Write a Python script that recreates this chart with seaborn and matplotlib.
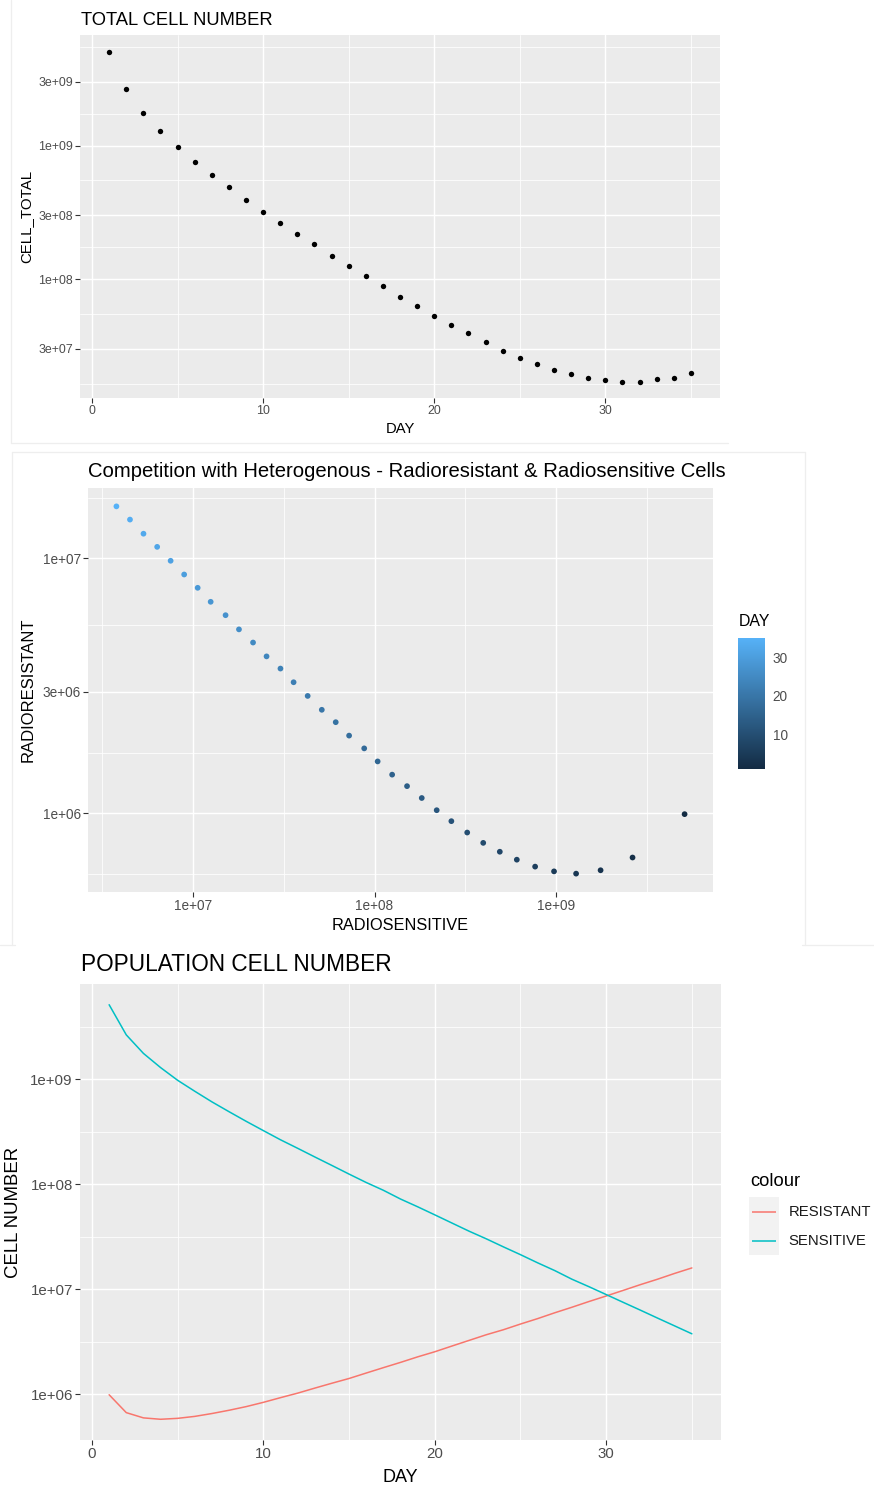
import numpy as np
import pandas as pd
import matplotlib
matplotlib.use("Agg")
import matplotlib.pyplot as plt
import seaborn as sns
from matplotlib.colors import LinearSegmentedColormap, Normalize
from matplotlib.cm import ScalarMappable
from matplotlib.ticker import FixedLocator, NullFormatter
from matplotlib.patches import Rectangle

# ---------------------------------------------------------------- data
DAY = list(range(1, 36))

CELL_TOTAL = [5.06e9, 2.65e9, 1.76e9, 1.28e9, 9.70e8, 7.55e8, 6.00e8, 4.86e8, 3.94e8, 3.20e8,
              2.62e8, 2.17e8, 1.82e8, 1.49e8, 1.25e8, 1.05e8, 8.83e7, 7.38e7, 6.32e7, 5.27e7,
              4.51e7, 3.93e7, 3.35e7, 2.90e7, 2.57e7, 2.31e7, 2.08e7, 1.95e7, 1.82e7, 1.75e7,
              1.71e7, 1.71e7, 1.78e7, 1.83e7, 1.98e7]

SENSITIVE = [5.11e9, 2.64e9, 1.76e9, 1.29e9, 9.75e8, 7.67e8, 6.08e8, 4.90e8, 3.97e8, 3.24e8,
             2.65e8, 2.20e8, 1.82e8, 1.51e8, 1.25e8, 1.04e8, 8.77e7, 7.24e7, 6.11e7, 5.12e7,
             4.28e7, 3.58e7, 3.03e7, 2.54e7, 2.14e7, 1.79e7, 1.51e7, 1.25e7, 1.06e7, 8.93e6,
             7.52e6, 6.34e6, 5.33e6, 4.49e6, 3.78e6]

RESISTANT = [9.94e5, 6.72e5, 5.99e5, 5.81e5, 5.93e5, 6.19e5, 6.59e5, 7.08e5, 7.67e5, 8.42e5,
             9.33e5, 1.03e6, 1.15e6, 1.28e6, 1.42e6, 1.60e6, 1.80e6, 2.02e6, 2.28e6, 2.55e6,
             2.89e6, 3.27e6, 3.70e6, 4.13e6, 4.68e6, 5.27e6, 5.99e6, 6.76e6, 7.67e6, 8.65e6,
             9.79e6, 1.11e7, 1.25e7, 1.42e7, 1.60e7]

TOTAL_YTICKS = [3e7, 1e8, 3e8, 1e9, 3e9]
DAY_TICKS = [0, 10, 20, 30]
COMP_XTICKS = [1e7, 1e8, 1e9]
COMP_YTICKS = [1e6, 3e6, 1e7]
POP_YTICKS = [1e6, 1e7, 1e8, 1e9]
DAY_BAR_TICKS = [10, 20, 30]
GROUPS = ["RESISTANT", "SENSITIVE"]
GROUP_COLORS = ["#F8766D", "#00BFC4"]

df_total = pd.DataFrame({"DAY": DAY, "CELL_TOTAL": CELL_TOTAL})
df_comp = pd.DataFrame({"DAY": DAY, "RADIOSENSITIVE": SENSITIVE, "RADIORESISTANT": RESISTANT})
df_pop = pd.DataFrame({"DAY": DAY, "RESISTANT": RESISTANT, "SENSITIVE": SENSITIVE}).melt(
    id_vars="DAY", var_name="colour", value_name="CELL NUMBER")

# ---------------------------------------------------------------- style
sns.set_theme(style="darkgrid")
FONT = ["Liberation Sans", "DejaVu Sans"]
plt.rcParams["font.family"] = FONT

W, H = 874, 1489
fig = plt.figure(figsize=(W / 100, H / 100), dpi=100)
fig.patch.set_facecolor("white")


def box(l, t, r, b):
    return [l / W, 1 - b / H, (r - l) / W, (b - t) / H]


def fx(x):
    return x / W


def fy(y):
    return 1 - y / H


def expand(lo, hi, f=0.05):
    d = (hi - lo) * f
    return lo - d, hi + d


def gg_minor(major, lo, hi):
    b = list(major)
    bd = b[1] - b[0]
    if lo < b[0]:
        b = [b[0] - bd] + b
    if hi > b[-1]:
        b = b + [b[-1] + bd]
    mids = [(a + c) / 2 for a, c in zip(b[:-1], b[1:])]
    return [m for m in mids if lo <= m <= hi]


def sci(v):
    return f"{v:.0e}"


def gg_axes(ax, tick_size, pad):
    ax.set_facecolor("#EBEBEB")
    for s in ax.spines.values():
        s.set_visible(False)
    ax.set_axisbelow(True)
    ax.grid(which="major", color="white", linewidth=1.05)
    ax.grid(which="minor", color="white", linewidth=0.55)
    ax.tick_params(which="major", length=3.4, width=0.8, color="#333333",
                   labelcolor="#4D4D4D", labelsize=tick_size, pad=pad,
                   bottom=True, left=True)
    ax.tick_params(which="minor", length=0, bottom=False, left=False)


def set_linear_x(ax, values, ticks):
    lo, hi = expand(min(values), max(values))
    ax.set_xlim(lo, hi)
    ax.xaxis.set_major_locator(FixedLocator(ticks))
    ax.set_xticklabels([str(t) for t in ticks])
    ax.xaxis.set_minor_locator(FixedLocator(gg_minor(ticks, lo, hi)))


def set_log(ax, axis, values, ticks):
    lv = np.log10(values)
    lo, hi = expand(lv.min(), lv.max())
    minors = [10 ** m for m in gg_minor(list(np.log10(ticks)), lo, hi)]
    a = ax.xaxis if axis == "x" else ax.yaxis
    if axis == "x":
        ax.set_xscale("log")
        ax.set_xlim(10 ** lo, 10 ** hi)
    else:
        ax.set_yscale("log")
        ax.set_ylim(10 ** lo, 10 ** hi)
    a.set_major_locator(FixedLocator(ticks))
    a.set_minor_locator(FixedLocator(minors))
    a.set_minor_formatter(NullFormatter())
    if axis == "x":
        ax.set_xticklabels([sci(t) for t in ticks])
    else:
        ax.set_yticklabels([sci(t) for t in ticks])


# ---------------------------------------------------------------- panel 1: total cells
ax1 = fig.add_axes(box(80, 35, 720, 398))
sns.scatterplot(data=df_total, x="DAY", y="CELL_TOTAL", ax=ax1, color="black",
                s=15, linewidth=0, legend=False)
gg_axes(ax1, 8.9, 1.6)
set_linear_x(ax1, DAY, DAY_TICKS)
set_log(ax1, "y", CELL_TOTAL, TOTAL_YTICKS)
ax1.set_xlabel("DAY", fontsize=10.6, color="black")
ax1.set_ylabel("CELL_TOTAL", fontsize=10.8, color="black")
ax1.xaxis.label.set_va("center")
ax1.yaxis.label.set_va("center")
ax1.xaxis.set_label_coords(0.5, (398 - 429) / 363)
ax1.yaxis.set_label_coords((26.5 - 80) / 640, 0.5)
fig.text(fx(81), fy(25), "TOTAL CELL NUMBER", fontsize=13.2, color="black", va="baseline")

# ---------------------------------------------------------------- panel 2: competition
cmap = LinearSegmentedColormap.from_list("gg_blue", ["#132B43", "#56B1F7"])
norm = Normalize(vmin=min(DAY), vmax=max(DAY))
ax2 = fig.add_axes(box(88, 488, 713, 892))
sns.scatterplot(data=df_comp, x="RADIOSENSITIVE", y="RADIORESISTANT", hue="DAY",
                palette=cmap, hue_norm=norm, ax=ax2, s=17, linewidth=0, legend=False)
gg_axes(ax2, 9.8, 1.6)
set_log(ax2, "x", SENSITIVE, COMP_XTICKS)
set_log(ax2, "y", RESISTANT, COMP_YTICKS)
ax2.set_xlabel("RADIOSENSITIVE", fontsize=11.8, color="black")
ax2.set_ylabel("RADIORESISTANT", fontsize=12.0, color="black")
ax2.xaxis.label.set_va("center")
ax2.yaxis.label.set_va("center")
ax2.xaxis.set_label_coords(0.5, (892 - 925) / 404)
ax2.yaxis.set_label_coords((28 - 88) / 625, 0.5)
fig.text(fx(88), fy(477.3),
         "Competition with Heterogenous - Radioresistant & Radiosensitive Cells",
         fontsize=14.6, color="black", va="baseline")

cax = fig.add_axes(box(738.3, 638.3, 765, 769))
cb = fig.colorbar(ScalarMappable(norm=norm, cmap=cmap), cax=cax, ticks=DAY_BAR_TICKS)
cb.outline.set_visible(False)
cax.tick_params(direction="in", length=4.2, width=1.0, color="white", left=True, right=True,
                labelsize=9.8, labelcolor="#4D4D4D", pad=5.6)
cax.grid(False)
fig.text(fx(738.5), fy(621.7), "DAY", fontsize=11.4, color="black", va="center")

# ---------------------------------------------------------------- panel 3: populations
ax3 = fig.add_axes(box(80, 984, 721, 1440))
sns.lineplot(data=df_pop, x="DAY", y="CELL NUMBER", hue="colour", hue_order=GROUPS,
             palette=dict(zip(GROUPS, GROUP_COLORS)), ax=ax3, linewidth=1.1,
             errorbar=None, legend=False)
gg_axes(ax3, 10.8, 1.8)
set_linear_x(ax3, DAY, DAY_TICKS)
set_log(ax3, "y", RESISTANT + SENSITIVE, POP_YTICKS)
ax3.set_xlabel("DAY", fontsize=13.0, color="black")
ax3.set_ylabel("CELL NUMBER", fontsize=13.4, color="black")
ax3.xaxis.label.set_va("center")
ax3.yaxis.label.set_va("center")
ax3.xaxis.set_label_coords(0.5, (1440 - 1477.5) / 456)
ax3.yaxis.set_label_coords((13.3 - 80) / 641, 0.5)
fig.text(fx(81), fy(970.8), "POPULATION CELL NUMBER", fontsize=16.3, color="black",
         va="baseline")

# overlay in pixel coordinates for the legend and the frame lines
ov = fig.add_axes([0, 0, 1, 1], zorder=10)
ov.set_xlim(0, W)
ov.set_ylim(H, 0)
ov.axis("off")
ov.patch.set_alpha(0)

ov.text(750, 1181, "colour", fontsize=13.2, color="black", va="center", ha="left")
ov.add_patch(Rectangle((749.3, 1197), 30, 58, facecolor="#F2F2F2", edgecolor="none"))
for i, (g, c) in enumerate(zip(GROUPS, GROUP_COLORS)):
    yk = 1211.7 + i * 29
    ov.plot([752, 776], [yk, yk], color=c, linewidth=1.1, solid_capstyle="butt")
    ov.text(788.3, yk, g, fontsize=10.7, color="#1A1A1A", va="center", ha="left")

faint = dict(color="#EEEEEE", linewidth=0.9)
ov.plot([11, 11], [0, 443], **faint)
ov.plot([11, 728], [443, 443], **faint)
ov.plot([12, 805], [452, 452], **faint)
ov.plot([12, 12], [452, 945], **faint)
ov.plot([805, 805], [452, 945], **faint)
ov.plot([0, 15], [945, 945], **faint)
ov.plot([802, 874], [945, 945], **faint)

fig.savefig("out.png", dpi=100, facecolor="white")
